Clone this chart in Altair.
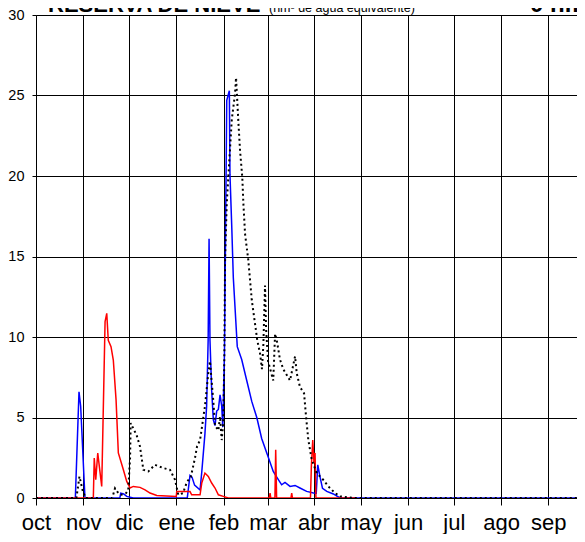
import altair as alt
import pandas as pd

# Month axis (water year Oct-Sep, leap year)
month_labels = ["oct", "nov", "dic", "ene", "feb", "mar", "abr", "may", "jun", "jul", "ago", "sep"]
month_start = [0, 31, 61, 92, 123, 152, 182, 213, 244, 274, 305, 336]

# Blue series
blue_day = [0, 25.8, 28.2, 29.3, 32.1, 55.0, 55.6, 57.5, 59.5, 63.8, 99.2, 101.0, 102.3, 104.0,
            107.6, 108.7, 110.8, 111.9, 112.9, 113.5, 114.1, 115.2, 116.3, 117.4, 118.5, 119.6,
            120.7, 121.8, 122.5, 123.6, 125.1, 126.8, 127.2, 128.4, 129.4, 132.0, 134.9, 138.2,
            141.5, 144.8, 148.0, 151.7, 155.6, 158.3, 161.1, 163.3, 166.6, 169.9, 173.1, 177.5,
            182.0, 183.8, 184.8, 186.3, 187.9, 190.7, 195.0, 199.4, 366]
blue_val = [0, 0, 6.6, 5.7, 0, 0, 0.3, 0.25, 0.1, 0, 0, 1.4, 1.3, 0.8,
            0.5, 1.6, 4.0, 5.7, 9.8, 16.1, 9.8, 6.7, 4.85, 4.5, 5.4, 5.5,
            6.4, 5.7, 4.4, 9.0, 24.7, 25.3, 20.1, 16.8, 13.7, 9.4, 8.6, 7.3,
            6.0, 5.0, 3.7, 2.7, 1.65, 1.24, 0.82, 0.97, 0.72, 0.78, 0.62, 0.41,
            0.31, 0.3, 2.06, 1.3, 0.6, 0.41, 0.25, 0, 0]

# Red series
red_day = [0, 37.6, 38.2, 39.2, 40.5, 43.1, 45.3, 46.4, 47.4, 49.2, 50.7, 52.5, 54.0, 57.3,
           59.5, 61.7, 63.8, 68.2, 71.5, 74.8, 79.2, 92.0, 92.3, 101.0, 102.1, 107.6, 108.7,
           110.8, 113.0, 115.2, 117.4, 119.6, 122.8, 126.1, 153.0, 153.5, 154.0, 156.7, 157.2,
           157.8, 167.2, 167.7, 168.2, 180.0, 180.6, 181.5, 182.3, 183.0, 183.6, 210]
red_val = [0, 0, 2.48, 1.13, 2.79, 0.72, 10.95, 11.47, 9.8, 9.4, 8.57, 6.1, 2.8, 1.75,
           1.03, 0.62, 0.72, 0.66, 0.51, 0.31, 0.16, 0.1, 0.4, 0.4, 0.2, 0.2, 0.93,
           1.55, 1.34, 0.93, 0.62, 0.2, 0.1, 0, 0, 0.31, 0, 0, 3.0,
           0, 0, 0.31, 0, 0, 2.0, 3.6, 2.2, 2.8, 0, 0]

# Black dotted series
black_day = [0, 26.5, 28.5, 30.5, 32.5, 50.0, 51.8, 54.0, 56.0, 59.0, 60.5, 61.7, 62.1, 66.0,
             68.2, 70.4, 73.7, 78.0, 83.5, 87.9, 91.2, 93.3, 96.4, 99.0, 101.5, 104.3, 105.6,
             107.6, 110.8, 113.0, 114.1, 116.3, 117.4, 119.6, 120.7, 121.8, 122.8, 123.5,
             124.0, 125.1, 126.8, 128.4, 130.5, 131.2, 132.7, 133.8, 135.3, 136.0, 137.1,
             139.2, 140.4, 141.5, 143.6, 145.1, 146.9, 148.2, 149.1, 150.2, 150.9, 152.2,
             155.6, 156.8, 157.9, 160.0, 162.2, 166.6, 169.9, 171.0, 173.1, 175.8, 177.1,
             178.6, 180.8, 184.1, 188.4, 191.7, 196.1, 199.4, 207.9, 366]
black_val = [0, 0, 1.34, 0.5, 0, 0, 0.6, 0.3, 0.2, 0.3, 0.5, 2.5, 4.65, 3.9,
             3.2, 1.75, 1.65, 2.06, 1.86, 1.75, 1.13, 0.2, 0.3, 1.0, 1.3, 2.5, 3.2,
             3.6, 5.7, 7.75, 8.5, 6.0, 4.5, 4.2, 5.06, 3.6, 4.7, 8.6,
             14.8, 18.3, 21.0, 23.5, 25.1, 26.1, 23.4, 21.6, 19.9, 18.3, 16.4,
             14.8, 13.5, 12.3, 10.85, 9.8, 9.0, 8.0, 9.5, 13.2, 10.5, 8.5,
             7.3, 10.2, 9.8, 8.6, 8.0, 7.3, 8.8, 7.75, 6.9, 6.5, 5.06,
             3.6, 2.4, 1.55, 1.13, 0.72, 0.31, 0.1, 0, 0]

y_ticks = [0, 5, 10, 15, 20, 25, 30]

blue_df = pd.DataFrame({"day": blue_day, "v": blue_val})
red_df = pd.DataFrame({"day": red_day, "v": red_val})
black_df = pd.DataFrame({"day": black_day, "v": black_val})
title_df = pd.DataFrame({"t": ["RESERVA DE NIEVE"]})

FONT = "Liberation Sans"

label_expr = "[" + ",".join("'%s'" % m for m in month_labels) + "][indexof([" + \
    ",".join(str(d) for d in month_start) + "], datum.value)]"

x_enc = alt.X("day:Q",
              scale=alt.Scale(domain=[0, 354.8], nice=False, zero=False),
              axis=alt.Axis(values=month_start, labelExpr=label_expr, grid=True,
                            gridColor="#000000", gridWidth=1, gridOpacity=1,
                            domainColor="#000000", tickColor="#000000", tickSize=7,
                            labelFont=FONT, labelFontSize=22, labelColor="#000000",
                            labelBaseline="alphabetic", labelPadding=24,
                            labelAlign="center", labelFlush=False,
                            labelOverlap=False, labelBound=False, title=None))
y_enc = alt.Y("v:Q",
              scale=alt.Scale(domain=[0, 30], nice=False),
              axis=alt.Axis(values=y_ticks, grid=True, gridColor="#000000", gridWidth=1,
                            domainColor="#000000", tickColor="#000000", tickSize=4,
                            labelFont=FONT, labelFontSize=14.5, labelColor="#000000",
                            labelPadding=8, title=None))

blue = alt.Chart(blue_df).mark_line(color="#0000ff", strokeWidth=1.5, clip=True).encode(x=x_enc, y=y_enc)
red = alt.Chart(red_df).mark_line(color="#ff0000", strokeWidth=1.5, clip=True).encode(x=x_enc, y=y_enc)
black = alt.Chart(black_df).mark_line(color="#000000", strokeWidth=2, strokeDash=[2, 3], clip=True).encode(x=x_enc, y=y_enc)

t1 = alt.Chart(title_df).mark_text(font=FONT, fontSize=22, fontWeight="bold", align="left",
                                   baseline="alphabetic", color="#000000").encode(
    x=alt.value(12), y=alt.value(-3), text=alt.value("RESERVA DE NIEVE"))
t2 = alt.Chart(title_df).mark_text(font=FONT, fontSize=12.5, align="left",
                                   baseline="alphabetic", color="#000000").encode(
    x=alt.value(233), y=alt.value(-3), text=alt.value("(hm³ de agua equivalente)"))
t3 = alt.Chart(title_df).mark_text(font=FONT, fontSize=24, fontWeight="bold", align="left",
                                   baseline="alphabetic", color="#000000").encode(
    x=alt.value(494), y=alt.value(-3), text=alt.value("0 hm³"))

chart = alt.layer(blue, red, black, t1, t2, t3).properties(
    width=541, height=483,
    autosize=alt.AutoSizeParams(type="none"),
    padding={"left": 28, "top": 7, "right": 0, "bottom": 36},
).configure_view(stroke=None)

chart.save("out.html", embed_options={"renderer": "svg", "actions": False})
